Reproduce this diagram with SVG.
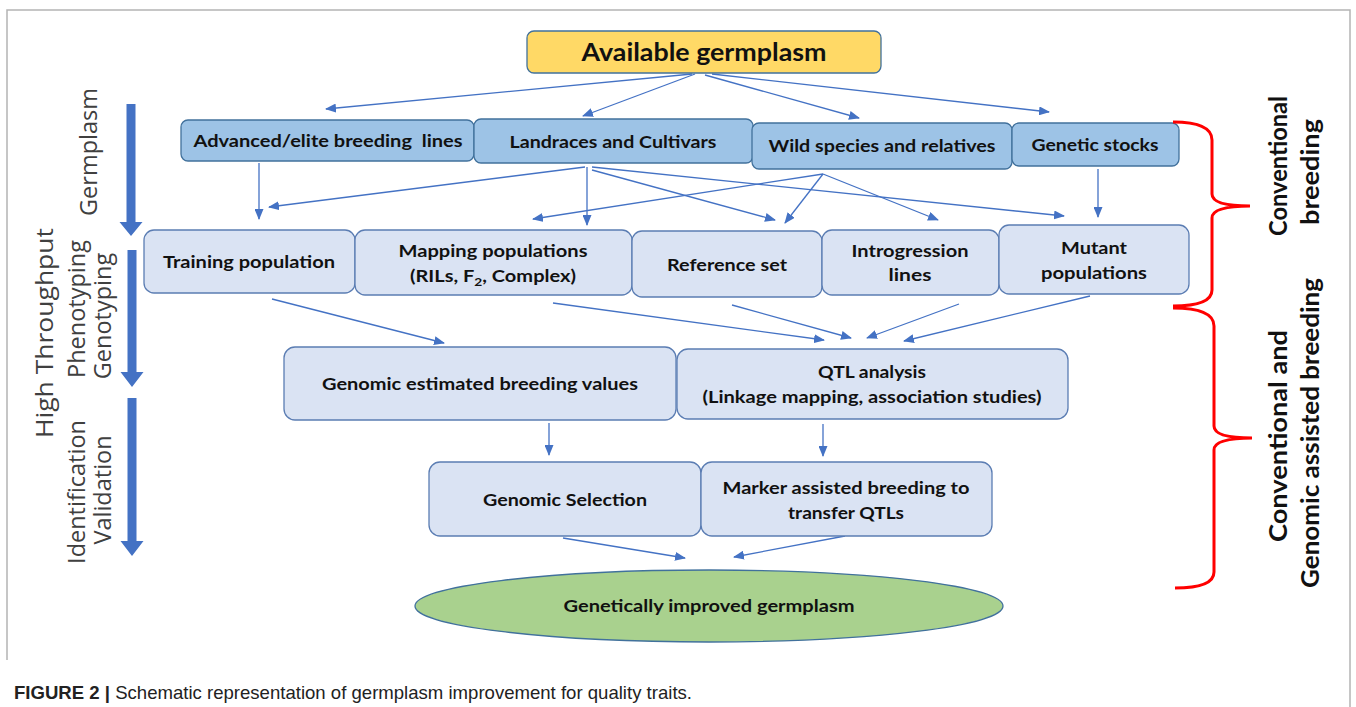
<svg xmlns="http://www.w3.org/2000/svg" width="1356" height="707" viewBox="0 0 1356 707">
<style>
.frame{fill:none;stroke:#b4b4b4;stroke-width:1.5}
.b1{fill:#9dc3e6;stroke:#41719c;stroke-width:1.3}
.b2{fill:#dae3f3;stroke:#5b7db3;stroke-width:1.3}
.top{fill:#ffd966;stroke:#41719c;stroke-width:1.3}
.ell{fill:#a9d18e;stroke:#41719c;stroke-width:1.3}
.t{font-family:Lato,"Liberation Sans",Arial,sans-serif;font-weight:700;font-size:17.5px;fill:#111;text-anchor:middle}
.big{font-size:25px}
.side{font-family:"Open Sans","Liberation Sans",sans-serif;font-size:23.5px;fill:#404040;text-anchor:middle}
.rt{font-family:Lato,"Liberation Sans",Arial,sans-serif;font-weight:700;font-size:25px;fill:#111;text-anchor:middle}
.c{fill:none;stroke:#4472c4;stroke-width:1.3;marker-end:url(#ah)}
.thick{fill:#4472c4}
.brace{fill:none;stroke:#ff0000;stroke-width:3}
.cap{font-family:"Liberation Sans",Arial,sans-serif;font-size:19px;fill:#222}
</style>
<defs>
<marker id="ah" markerUnits="userSpaceOnUse" markerWidth="11" markerHeight="9" refX="10" refY="4.5" orient="auto">
<path d="M0,0 L11,4.5 L0,9 z" fill="#4472c4"/>
</marker>
</defs>
<rect width="1356" height="707" fill="#ffffff"/>
<path class="frame" d="M7,660 V10 H1350 V707"/>

<g id="side-arrows">
<path class="thick" d="M126.5,104 h9 v118 h7 l-11.5,14 l-11.5,-14 h7 z"/>
<path class="thick" d="M127.5,250 h9 v122 h7 l-11.5,15 l-11.5,-15 h7 z"/>
<path class="thick" d="M127.5,398 h9 v143 h7 l-11.5,15 l-11.5,-15 h7 z"/>
</g>

<g id="side-labels">
<text class="side" transform="translate(97,152) rotate(-90)">Germplasm</text>
<text class="side" transform="translate(53,333) rotate(-90)" textLength="210" lengthAdjust="spacingAndGlyphs">High Throughput</text>
<text class="side" transform="translate(85,309) rotate(-90)">Phenotyping</text>
<text class="side" transform="translate(111,316) rotate(-90)">Genotyping</text>
<text class="side" transform="translate(85,492) rotate(-90)">Identification</text>
<text class="side" transform="translate(111,490) rotate(-90)">Validation</text>
</g>

<g id="connectors">
<path class="c" d="M692,74 L326,109"/>
<path class="c" d="M695,74 L583,116"/>
<path class="c" d="M705,75 L859,118"/>
<path class="c" d="M712,74 L1049,112"/>
<path class="c" d="M259,163 L259,219"/>
<path class="c" d="M585,167 L269,207"/>
<path class="c" d="M587,167 L587,225"/>
<path class="c" d="M592,170 L775,220"/>
<path class="c" d="M592,167 L1064,216"/>
<path class="c" d="M823,174 L533,219"/>
<path class="c" d="M823,174 L785,223"/>
<path class="c" d="M823,174 L938,220"/>
<path class="c" d="M1098,169 L1098,217"/>
<path class="c" d="M272,299 L444,343"/>
<path class="c" d="M553,303 L824,340"/>
<path class="c" d="M732,305 L851,338"/>
<path class="c" d="M959,304 L867,338"/>
<path class="c" d="M1090,296 L904,341"/>
<path class="c" d="M549,423 L549,455"/>
<path class="c" d="M823,424 L823,456"/>
<path class="c" d="M563,538 L685,558"/>
<path class="c" d="M845,536 L734,557"/>
</g>

<g id="available-germplasm">
<rect class="top" x="527" y="31" width="354" height="42" rx="7"/>
<text class="t big" x="704" y="61" textLength="245" lengthAdjust="spacingAndGlyphs">Available germplasm</text>
</g>

<g id="advanced-elite">
<rect class="b1" x="181" y="120" width="293" height="41" rx="7"/>
<text class="t" x="328" y="147" textLength="269" lengthAdjust="spacingAndGlyphs" xml:space="preserve">Advanced/elite breeding  lines</text>
</g>
<g id="landraces">
<rect class="b1" x="474" y="119" width="279" height="44" rx="7"/>
<text class="t" x="613" y="148" textLength="207" lengthAdjust="spacingAndGlyphs">Landraces and Cultivars</text>
</g>
<g id="wild-species">
<rect class="b1" x="752" y="123" width="260" height="46" rx="7"/>
<text class="t" x="882" y="152" textLength="227" lengthAdjust="spacingAndGlyphs">Wild species and relatives</text>
</g>
<g id="genetic-stocks">
<rect class="b1" x="1012" y="123" width="167" height="43" rx="7"/>
<text class="t" x="1095" y="151" textLength="127" lengthAdjust="spacingAndGlyphs">Genetic stocks</text>
</g>

<g id="training-population">
<rect class="b2" x="144" y="230" width="211" height="63" rx="10"/>
<text class="t" x="249" y="268" textLength="172" lengthAdjust="spacingAndGlyphs">Training population</text>
</g>
<g id="mapping-populations">
<rect class="b2" x="355" y="230" width="277" height="65" rx="10"/>
<text class="t" x="493" y="257" textLength="189" lengthAdjust="spacingAndGlyphs">Mapping populations</text>
<text class="t" x="493" y="282" textLength="166" lengthAdjust="spacingAndGlyphs">(RILs, F<tspan font-size="12" dy="4">2</tspan><tspan dy="-4">, Complex)</tspan></text>
</g>
<g id="reference-set">
<rect class="b2" x="632" y="231" width="190" height="66" rx="10"/>
<text class="t" x="727" y="271" textLength="120" lengthAdjust="spacingAndGlyphs">Reference set</text>
</g>
<g id="introgression-lines">
<rect class="b2" x="822" y="230" width="177" height="65" rx="10"/>
<text class="t" x="910" y="257" textLength="117" lengthAdjust="spacingAndGlyphs">Introgression</text>
<text class="t" x="910" y="281" textLength="43" lengthAdjust="spacingAndGlyphs">lines</text>
</g>
<g id="mutant-populations">
<rect class="b2" x="999" y="225" width="190" height="69" rx="10"/>
<text class="t" x="1094" y="254" textLength="66" lengthAdjust="spacingAndGlyphs">Mutant</text>
<text class="t" x="1094" y="279" textLength="106" lengthAdjust="spacingAndGlyphs">populations</text>
</g>

<g id="gebv">
<rect class="b2" x="284" y="347" width="392" height="73" rx="11"/>
<text class="t" x="480" y="390" textLength="316" lengthAdjust="spacingAndGlyphs">Genomic estimated breeding values</text>
</g>
<g id="qtl-analysis">
<rect class="b2" x="677" y="349" width="391" height="70" rx="11"/>
<text class="t" x="872" y="378" textLength="108" lengthAdjust="spacingAndGlyphs">QTL analysis</text>
<text class="t" x="872" y="403" textLength="339" lengthAdjust="spacingAndGlyphs">(Linkage mapping, association studies)</text>
</g>

<g id="genomic-selection">
<rect class="b2" x="429" y="462" width="272" height="74" rx="11"/>
<text class="t" x="565" y="506" textLength="164" lengthAdjust="spacingAndGlyphs">Genomic Selection</text>
</g>
<g id="marker-assisted">
<rect class="b2" x="701" y="462" width="291" height="74" rx="11"/>
<text class="t" x="846" y="494" textLength="247" lengthAdjust="spacingAndGlyphs">Marker assisted breeding to</text>
<text class="t" x="846" y="519" textLength="116" lengthAdjust="spacingAndGlyphs">transfer QTLs</text>
</g>

<g id="improved-germplasm">
<ellipse class="ell" cx="709" cy="606" rx="294" ry="36"/>
<text class="t" x="709" y="612" textLength="291" lengthAdjust="spacingAndGlyphs">Genetically improved germplasm</text>
</g>

<g id="braces">
<path class="brace" d="M1173,122 Q1212,122 1212,140 L1212,194 Q1212,206 1250,206 Q1212,206 1212,218 L1212,290 Q1212,306 1173,306"/>
<path class="brace" d="M1173,308 Q1214,308 1214,326 L1214,426 Q1214,438 1252,438 Q1214,438 1214,450 L1214,572 Q1214,588 1175,588"/>
</g>

<g id="right-labels">
<text class="rt" transform="translate(1287,166) rotate(-90)" textLength="140" lengthAdjust="spacingAndGlyphs">Conventional</text>
<text class="rt" transform="translate(1319,172) rotate(-90)" textLength="106" lengthAdjust="spacingAndGlyphs">breeding</text>
<text class="rt" transform="translate(1287,436) rotate(-90)" textLength="212" lengthAdjust="spacingAndGlyphs">Conventional and</text>
<text class="rt" transform="translate(1319,433) rotate(-90)" textLength="310" lengthAdjust="spacingAndGlyphs">Genomic assisted breeding</text>
</g>

<g id="caption">
<text class="cap" x="14" y="699" textLength="678" lengthAdjust="spacingAndGlyphs" xml:space="preserve"><tspan font-weight="700">FIGURE 2 |</tspan> Schematic representation of germplasm improvement for quality traits.</text>
</g>
</svg>
